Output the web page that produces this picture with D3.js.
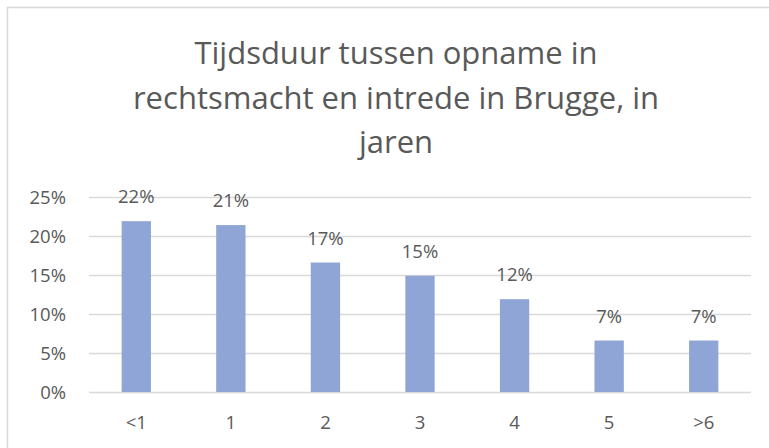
<!DOCTYPE html>
<html>
<head>
<meta charset="utf-8">
<script src="https://cdn.jsdelivr.net/npm/d3@7"></script>
<style>
  body { margin: 0; background: #fff; }
  text { font-family: "Open Sans", sans-serif; fill: #595959; }
</style>
</head>
<body>
<div id="chart"></div>
<script>
// data
const categories = ["<1", "1", "2", "3", "4", "5", ">6"];
const shares = [0.219, 0.214, 0.166, 0.149, 0.119, 0.066, 0.066];
const yTicks = [0, 0.05, 0.10, 0.15, 0.20, 0.25];
const titleLines = ["Tijdsduur tussen opname in", "rechtsmacht en intrede in Brugge, in", "jaren"];

const width = 769, height = 448;
const margin = { top: 197, bottom: 56, left: 89, right: 18 };

const svg = d3.select("#chart").append("svg")
  .attr("width", width)
  .attr("height", height);

// chart frame (only top/left visible in the crop)
svg.append("rect")
  .attr("x", 7.5).attr("y", 7.5)
  .attr("width", 800).attr("height", 500)
  .attr("fill", "#fff")
  .attr("stroke", "#d9d9d9")
  .attr("stroke-width", 1.5);

const xScale = d3.scaleBand()
  .domain(categories)
  .range([margin.left, width - margin.right])
  .paddingInner(0.69)
  .paddingOuter(0.345);

const yScale = d3.scaleLinear()
  .domain([0, 0.25])
  .range([height - margin.bottom, margin.top]);

// gridlines
svg.append("g")
  .selectAll("line")
  .data(yTicks)
  .join("line")
  .attr("x1", margin.left)
  .attr("x2", width - margin.right)
  .attr("y1", d => Math.round(yScale(d)) + 0.5)
  .attr("y2", d => Math.round(yScale(d)) + 0.5)
  .attr("stroke", "#d9d9d9")
  .attr("stroke-width", 1.5);

// y axis labels
const yAxis = d3.axisLeft(yScale)
  .tickValues(yTicks)
  .tickFormat(d3.format(".0%"))
  .tickSize(0)
  .tickPadding(23);

svg.append("g")
  .attr("transform", `translate(${margin.left}, 0)`)
  .call(yAxis)
  .call(g => g.select(".domain").remove())
  .selectAll("text")
  .attr("font-size", 18.5)
  .attr("dy", "0.35em");

// x axis labels
const xAxis = d3.axisBottom(xScale).tickSize(0).tickPadding(24);
svg.append("g")
  .attr("transform", `translate(0, ${yScale(0)})`)
  .call(xAxis)
  .call(g => g.select(".domain").remove())
  .selectAll("text")
  .attr("font-size", 18.5);

// bars
svg.selectAll("rect.bar")
  .data(shares)
  .join("rect")
  .attr("class", "bar")
  .attr("x", (d, i) => xScale(categories[i]))
  .attr("y", d => yScale(d))
  .attr("width", xScale.bandwidth())
  .attr("height", d => yScale(0) - yScale(d))
  .attr("fill", "#8fa5d5");

// data labels
svg.selectAll("text.label")
  .data(shares)
  .join("text")
  .attr("class", "label")
  .attr("x", (d, i) => xScale(categories[i]) + xScale.bandwidth() / 2)
  .attr("y", d => yScale(d) - 18)
  .attr("text-anchor", "middle")
  .attr("font-size", 18.5)
  .text(d => d3.format(".0%")(d));

// title
svg.append("text")
  .attr("text-anchor", "middle")
  .attr("font-size", 31)
  .selectAll("tspan")
  .data(titleLines)
  .join("tspan")
  .attr("x", 396)
  .attr("y", (d, i) => 64 + i * 44.5)
  .text(d => d);
</script>
</body>
</html>
